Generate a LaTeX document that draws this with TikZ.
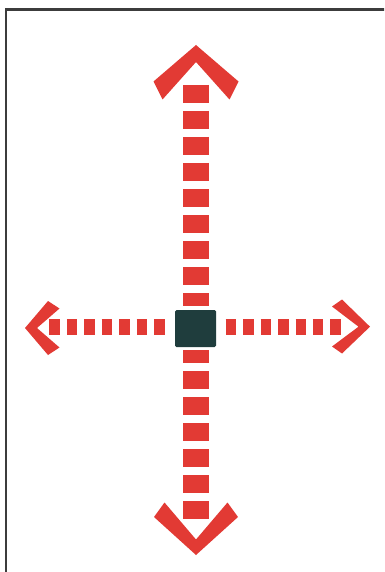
\documentclass[tikz,border=0pt]{standalone}
\definecolor{arrowred}{RGB}{226,58,52}
\definecolor{squarecol}{RGB}{31,61,61}
\definecolor{framecol}{RGB}{60,60,60}
\begin{document}
\begin{tikzpicture}[x=1pt,y=-1pt,
  vdash/.style={draw=arrowred,line width=25.4pt,dash pattern=on 17.6pt off 8.4pt},
  hdash/.style={draw=arrowred,line width=15.7pt,dash pattern=on 10.5pt off 6.95pt},
  chevron/.style={fill=arrowred,draw=none},
  sq/.style={fill=squarecol,draw=none,rounded corners=1.5pt,minimum width=41pt,minimum height=37pt,inner sep=0pt}]
\useasboundingbox (0,0) rectangle (384,572);
\fill[white] (0,0) rectangle (384,572);
\begin{scope}
\clip (0,0) rectangle (384,572);
\draw[framecol,line width=2.3pt] (6.2,580) -- (6.2,9.5) -- (390,9.5);
\end{scope}
% center square
\node[sq] (center) at (195.5,328.5) {};
% free ends
\coordinate (topend) at (196,85);
\coordinate (botend) at (196,518.7);
\coordinate (leftend) at (49.3,327.2);
\coordinate (rightend) at (341,327.2);
% dashed connectors
\draw[vdash,shorten >=4.3pt] (topend) -- (topend |- center.north);
\draw[vdash,shorten >=2.3pt] (botend) -- (botend |- center.south);
\draw[hdash,shorten >=8.5pt] (leftend) -- (leftend -| center.west);
\draw[hdash,shorten <=9.5pt] (rightend -| center.east) -- (rightend);
% chevrons
\fill[chevron] (196,45) -- (238.5,81.5) -- (229.5,99.5) -- (196,62) -- (162.5,99.5) -- (153.5,81.5) -- cycle;
\fill[chevron] (196,555) -- (238,517) -- (227.5,502.5) -- (196,539.5) -- (164.5,502.5) -- (154,517) -- cycle;
\fill[chevron] (25,328) -- (48,301) -- (59.5,308.5) -- (37,328) -- (59.5,347.5) -- (48,355) -- cycle;
\fill[chevron] (370,326.7) -- (342,299.5) -- (332,306.5) -- (358.5,326.7) -- (332,346.5) -- (342,353.5) -- cycle;
\end{tikzpicture}
\end{document}
